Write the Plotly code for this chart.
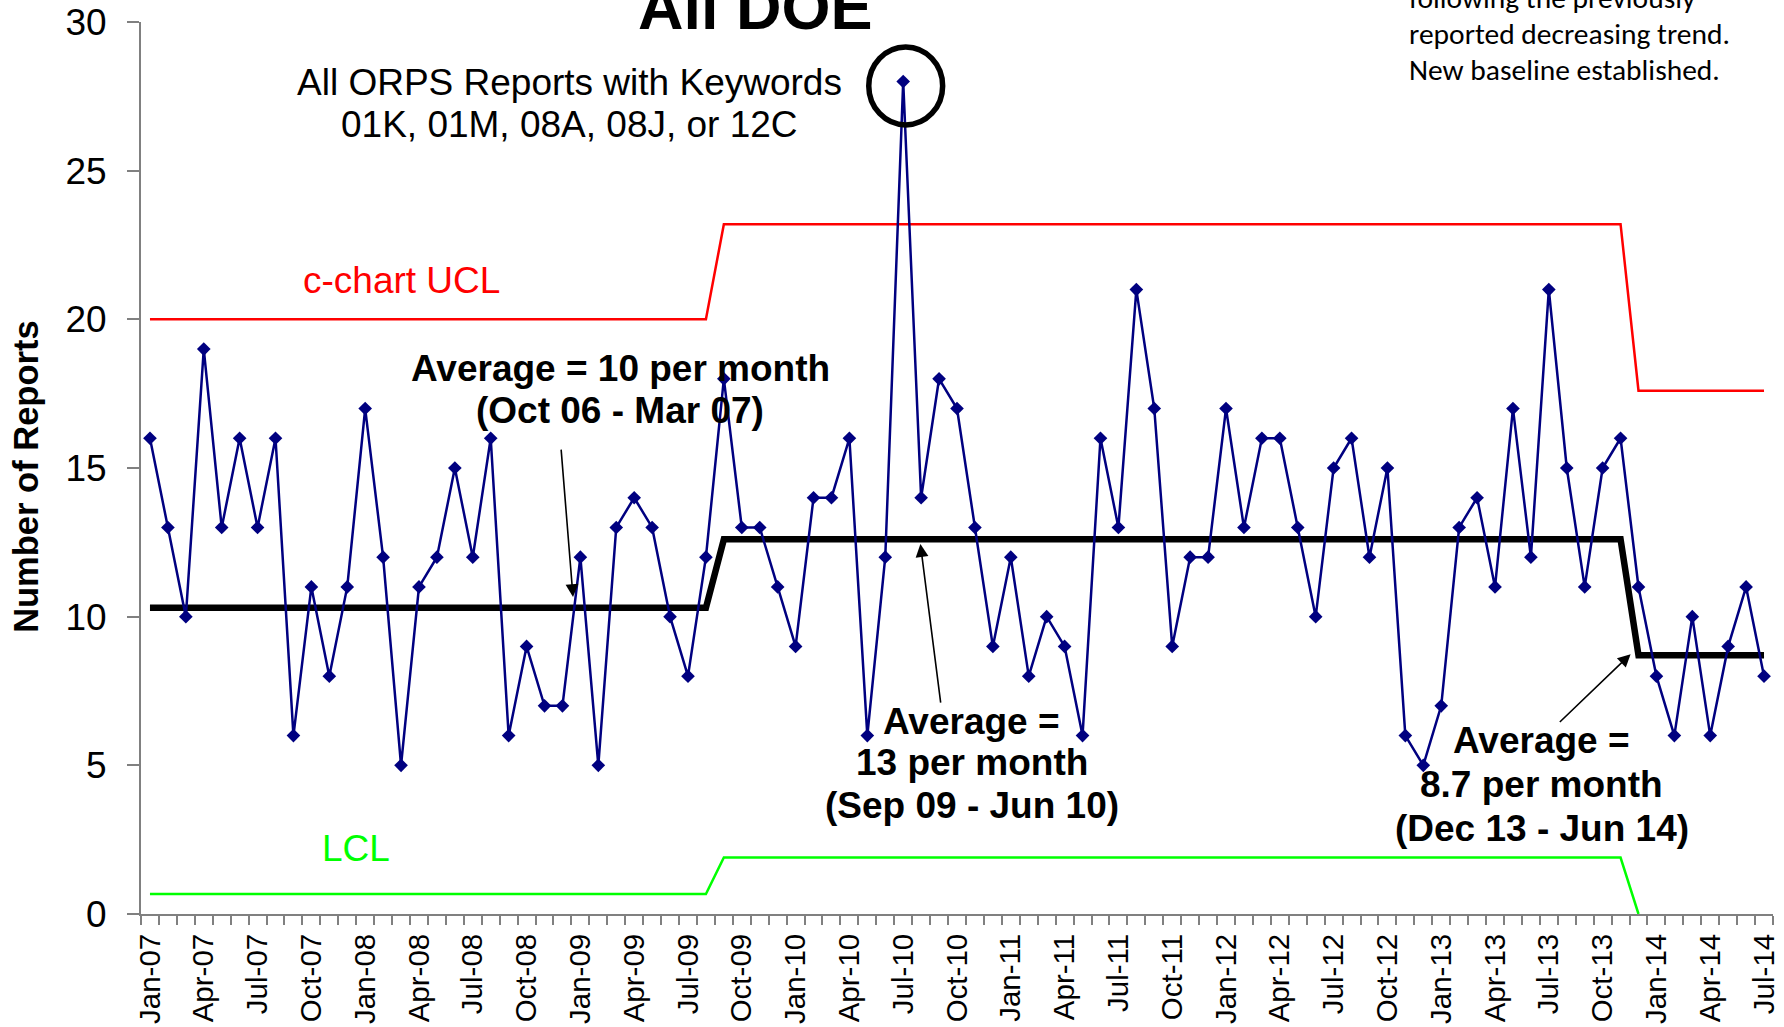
import plotly.graph_objects as go

# ---------------- data ----------------
months = [
    "Jan-07", "Feb-07", "Mar-07", "Apr-07", "May-07", "Jun-07", "Jul-07", "Aug-07", "Sep-07", "Oct-07", "Nov-07", "Dec-07",
    "Jan-08", "Feb-08", "Mar-08", "Apr-08", "May-08", "Jun-08", "Jul-08", "Aug-08", "Sep-08", "Oct-08", "Nov-08", "Dec-08",
    "Jan-09", "Feb-09", "Mar-09", "Apr-09", "May-09", "Jun-09", "Jul-09", "Aug-09", "Sep-09", "Oct-09", "Nov-09", "Dec-09",
    "Jan-10", "Feb-10", "Mar-10", "Apr-10", "May-10", "Jun-10", "Jul-10", "Aug-10", "Sep-10", "Oct-10", "Nov-10", "Dec-10",
    "Jan-11", "Feb-11", "Mar-11", "Apr-11", "May-11", "Jun-11", "Jul-11", "Aug-11", "Sep-11", "Oct-11", "Nov-11", "Dec-11",
    "Jan-12", "Feb-12", "Mar-12", "Apr-12", "May-12", "Jun-12", "Jul-12", "Aug-12", "Sep-12", "Oct-12", "Nov-12", "Dec-12",
    "Jan-13", "Feb-13", "Mar-13", "Apr-13", "May-13", "Jun-13", "Jul-13", "Aug-13", "Sep-13", "Oct-13", "Nov-13", "Dec-13",
    "Jan-14", "Feb-14", "Mar-14", "Apr-14", "May-14", "Jun-14", "Jul-14",
]
reports = [
    16, 13, 10, 19, 13, 16, 13, 16, 6, 11, 8, 11,
    17, 12, 5, 11, 12, 15, 12, 16, 6, 9, 7, 7,
    12, 5, 13, 14, 13, 10, 8, 12, 18, 13, 13, 11,
    9, 14, 14, 16, 6, 12, 28, 14, 18, 17, 13, 9,
    12, 8, 10, 9, 6, 16, 13, 21, 17, 9, 12, 12,
    17, 13, 16, 16, 13, 10, 15, 16, 12, 15, 6, 5,
    7, 13, 14, 11, 17, 12, 21, 15, 11, 15, 16, 11,
    8, 6, 10, 6, 9, 11, 8,
]
period_start_months = ["Jan-07", "Sep-09", "Dec-13"]
average_levels = [10.3, 12.6, 8.7]
ucl_levels = [20.0, 23.2, 17.6]
lcl_levels = [0.67, 1.9, 0.0]
lcl_last_month = "Dec-13"
tick_label_months = months[::3]

# ---------------- derived series ----------------
n = len(months)
x = list(range(n))
starts = [months.index(m) for m in period_start_months]


def step(levels):
    out = []
    for i in x:
        k = max(j for j, s in enumerate(starts) if s <= i)
        out.append(levels[k])
    return out


avg = step(average_levels)
ucl = step(ucl_levels)
lcl_full = step(lcl_levels)
lcl_end = months.index(lcl_last_month)
lcl = [v if i <= lcl_end else None for i, v in enumerate(lcl_full)]

tickvals = [months.index(m) for m in tick_label_months]

FONT = "Liberation Sans, Arial, Helvetica, sans-serif"
NOTE_FONT = "Carlito, Lato, Calibri, sans-serif"
AXIS_GREY = "#808080"

fig = go.Figure()
fig.add_trace(go.Scatter(x=x, y=ucl, mode="lines", line=dict(color="#FF0000", width=2.5),
                         hoverinfo="skip", showlegend=False))
fig.add_trace(go.Scatter(x=x, y=lcl, mode="lines", line=dict(color="#00FF00", width=2.5),
                         hoverinfo="skip", showlegend=False))
fig.add_trace(go.Scatter(x=x, y=avg, mode="lines", line=dict(color="#000000", width=6.5),
                         hoverinfo="skip", showlegend=False))
fig.add_trace(go.Scatter(x=x, y=reports, mode="lines+markers",
                         line=dict(color="#000080", width=2.5),
                         marker=dict(symbol="diamond", size=10.5, color="#000080"),
                         text=months, hovertemplate="%{text}: %{y}<extra></extra>",
                         showlegend=False))


def txt(text, xv, yv, size, color="#000000", bold=False, xanchor="center", family=FONT, ref="data"):
    if bold:
        text = "<b>" + text + "</b>"
    r = ("x", "y") if ref == "data" else ("paper", "paper")
    return dict(text=text, x=xv, y=yv, xref=r[0], yref=r[1], showarrow=False,
                xanchor=xanchor, yanchor="middle",
                font=dict(family=family, size=size, color=color))


def arrow(hx, hy, tx, ty):
    return dict(text="", x=hx, y=hy, ax=tx, ay=ty, xref="x", yref="y", axref="x", ayref="y",
                showarrow=True, arrowhead=2, arrowsize=1.6, arrowwidth=1.6, arrowcolor="#000000",
                standoff=0, startstandoff=0)


annotations = [
    txt("All DOE", 0.3765, 1.0168, 63, bold=True, ref="paper"),
    txt("All ORPS Reports with Keywords", 23.42, 27.98, 37),
    txt("01K, 01M, 08A, 08J, or 12C", 23.42, 26.54, 37),
    txt("c-chart UCL", 14.05, 21.32, 37, color="#FF0000"),
    txt("LCL", 11.49, 2.19, 37, color="#00FF00"),
    txt("Average = 10 per month", 26.21, 18.34, 37, bold=True),
    txt("(Oct 06 - Mar 07)", 26.21, 16.94, 37, bold=True),
    txt("Average =", 45.82, 6.47, 37, bold=True),
    txt("13 per month", 45.82, 5.09, 37, bold=True),
    txt("(Sep 09 - Jun 10)", 45.82, 3.65, 37, bold=True),
    txt("Average =", 77.6, 5.82, 37, bold=True),
    txt("8.7 per month", 77.6, 4.34, 37, bold=True),
    txt("(Dec 13 - Jun 14)", 77.6, 2.89, 37, bold=True),
    txt("following the previously", 0.7757, 1.0274, 29.5, xanchor="left", family=NOTE_FONT, ref="paper"),
    txt("reported decreasing trend.", 0.7757, 0.987, 29.5, xanchor="left", family=NOTE_FONT, ref="paper"),
    txt("New baseline established.", 0.7757, 0.9466, 29.5, xanchor="left", family=NOTE_FONT, ref="paper"),
    dict(text="<b>Number of Reports</b>", x=-0.0705, y=0.49, xref="paper", yref="paper",
         showarrow=False, textangle=-90, xanchor="center", yanchor="middle",
         font=dict(family=FONT, size=34.5, color="#000000")),
    arrow(23.59, 10.66, 22.92, 15.67),
    arrow(42.96, 12.44, 44.10, 7.06),
    arrow(82.56, 8.74, 78.53, 6.41),
]

peak = max(reports)
peak_i = reports.index(peak)
shapes = [
    dict(type="circle", xref="x", yref="y",
         x0=peak_i + 0.14 - 2.06, x1=peak_i + 0.14 + 2.06,
         y0=peak - 0.15 - 1.31, y1=peak - 0.15 + 1.31,
         line=dict(color="#000000", width=5.5), layer="above"),
]

fig.update_layout(
    width=1784, height=1027,
    margin=dict(l=141, r=11, t=22, b=113, pad=0, autoexpand=False),
    paper_bgcolor="#FFFFFF", plot_bgcolor="#FFFFFF",
    font=dict(family=FONT, color="#000000"),
    annotations=annotations, shapes=shapes,
    xaxis=dict(
        range=[-0.5, n - 0.5], tickmode="array", tickvals=tickvals, ticktext=tick_label_months,
        tickangle=-90, tickfont=dict(family=FONT, size=29.5, color="#000000"),
        ticks="", showgrid=False, zeroline=False, automargin=False,
        showline=True, linecolor=AXIS_GREY, linewidth=2,
        ticklabelstandoff=6,
        minor=dict(tickmode="array", tickvals=[i - 0.5 for i in range(n + 1)],
                   ticks="outside", ticklen=9, tickwidth=1.5, tickcolor=AXIS_GREY, showgrid=False),
    ),
    yaxis=dict(
        range=[0, 30], tickmode="linear", tick0=0, dtick=5,
        tickfont=dict(family=FONT, size=37, color="#000000"),
        ticks="outside", ticklen=12, tickwidth=1.5, tickcolor=AXIS_GREY,
        showgrid=False, zeroline=False, automargin=False,
        showline=True, linecolor=AXIS_GREY, linewidth=2,
        ticklabelstandoff=13,
    ),
)

fig.write_html("out.html", config={"displayModeBar": False},
               post_script="document.body.style.margin='0';document.body.style.overflow='hidden';")
